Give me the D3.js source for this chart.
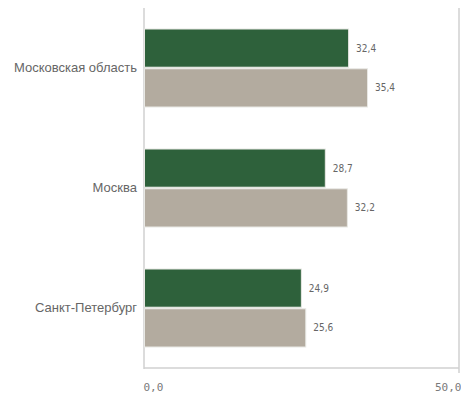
<!DOCTYPE html>
<html><head><meta charset="utf-8">
<script src="https://cdn.jsdelivr.net/npm/d3@7"></script>
<style>
html,body{margin:0;padding:0;background:#fff;}
svg{display:block;}
</style>
</head><body>
<svg id="chart" width="461" height="395"></svg>
<script>
const categories = ["Московская область", "Москва", "Санкт-Петербург"];
const seriesNames = ["s1", "s2"];
const series1 = [32.4, 28.7, 24.9];
const series2 = [35.4, 32.2, 25.6];
const tickValues = [0, 50];
const tickLabels = ["0,0", "50,0"];
const colors = ["#2e613b", "#b3ab9f"];

(function () {
const svg = d3.select("#chart");
const mLeft = 144, mRight = 459, mTop = 8, mBottom = 368;

const x = d3.scaleLinear().domain([0, 50]).range([mLeft, mRight]);
const y = d3.scaleBand().domain(categories).range([mTop, mBottom]).paddingInner(0.35).paddingOuter(0.175);
const ySub = d3.scaleBand().domain(seriesNames).range([0, y.bandwidth()]).paddingInner(0.04);

const data = categories.map((c, i) => ({cat: c, vals: [series1[i], series2[i]]}));

// axes lines
svg.append("line").attr("x1", mLeft).attr("x2", mLeft).attr("y1", mTop).attr("y2", mBottom + 1)
  .attr("stroke", "#d0d0d0").attr("stroke-width", 1.5);
svg.append("line").attr("x1", x(50)).attr("x2", x(50)).attr("y1", mTop).attr("y2", mBottom + 5)
  .attr("stroke", "#d0d0d0").attr("stroke-width", 1.5);
svg.append("line").attr("x1", mLeft).attr("x2", x(50)).attr("y1", mBottom).attr("y2", mBottom)
  .attr("stroke", "#d0d0d0").attr("stroke-width", 1.5);

// x ticks
const xAxis = d3.axisBottom(x).tickValues(tickValues).tickFormat((d, i) => tickLabels[i]).tickSize(0).tickPadding(15);
const gx = svg.append("g").attr("transform", `translate(0,${mBottom})`).call(xAxis);
gx.select(".domain").remove();
gx.selectAll("text").attr("font-family", "DejaVu Sans Mono").attr("font-size", 11).attr("fill", "#7a7a7a")
  .attr("text-anchor", (d, i) => i === 0 ? "start" : "end")
  .attr("dx", (d, i) => i === 0 ? -1 : 2);

// bars
const groups = svg.selectAll("g.cat").data(data).join("g").attr("class", "cat")
  .attr("transform", d => `translate(0,${y(d.cat)})`);
groups.selectAll("rect").data(d => d.vals.map((v, j) => ({v, s: seriesNames[j], j}))).join("rect")
  .attr("x", x(0) + 0.5)
  .attr("y", d => ySub(d.s))
  .attr("width", d => x(d.v) - x(0))
  .attr("height", ySub.bandwidth())
  .attr("fill", d => colors[d.j])
  .attr("stroke", "#e8e8e4").attr("stroke-width", 1);
groups.selectAll("text.val").data(d => d.vals.map((v, j) => ({v, s: seriesNames[j], j}))).join("text")
  .attr("class", "val")
  .attr("x", d => x(d.v) + 8)
  .attr("y", d => ySub(d.s) + ySub.bandwidth() / 2)
  .attr("dy", "0.35em")
  .attr("font-family", "DejaVu Sans Condensed")
  .attr("font-size", 10).attr("fill", "#666")
  .text(d => d3.format(".1f")(d.v).replace(".", ","));

// y labels
const yAxis = d3.axisLeft(y).tickSize(0).tickPadding(6);
const gy = svg.append("g").attr("transform", `translate(${mLeft - 1},0)`).call(yAxis);
gy.select(".domain").remove();
gy.selectAll("text").attr("font-family", "Liberation Sans").attr("font-size", 13).attr("fill", "#666");
})();
</script>
</body></html>
